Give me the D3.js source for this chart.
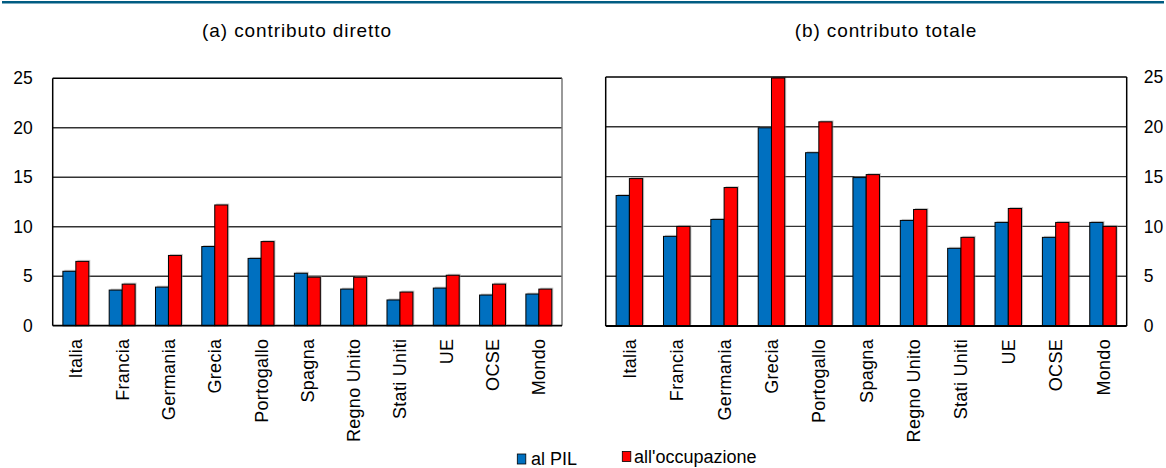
<!DOCTYPE html>
<html><head><meta charset="utf-8">
<script src="https://cdn.jsdelivr.net/npm/d3@7/dist/d3.min.js"></script>
<style>
html,body{margin:0;padding:0;background:#fff;}
svg{display:block;font-family:"Liberation Sans",Arial,sans-serif;}
</style></head>
<body>
<script>
const categories = ["Italia","Francia","Germania","Grecia","Portogallo","Spagna","Regno Unito","Stati Uniti","UE","OCSE","Mondo"];
const directPIL = [5.5,3.6,3.9,8.0,6.8,5.3,3.7,2.6,3.8,3.1,3.2];
const directOcc = [6.5,4.2,7.1,12.2,8.5,4.9,4.9,3.4,5.1,4.2,3.7];
const totalPIL  = [13.1,9.0,10.7,19.9,17.4,14.9,10.6,7.8,10.4,8.9,10.4];
const totalOcc  = [14.8,10.0,13.9,24.9,20.5,15.2,11.7,8.9,11.8,10.4,10.0];
const yTicks = [0,5,10,15,20,25];
const seriesNames = ["al PIL","all'occupazione"];
const panelTitles = ["(a) contributo diretto","(b) contributo totale"];
const colors = ["#0070C0","#FF0000"];

const W = 1166, H = 468;
const svg = d3.select("body").append("svg").attr("width",W).attr("height",H);

// top rule
svg.append("rect").attr("x",2).attr("y",1).attr("width",W-4).attr("height",2.5).attr("fill","#005C82");

const panels = [
  {x0:52.7, x1:562, y0:78.3, y1:325.7, a:directPIL, b:directOcc, title:panelTitles[0], tx:297, axis:"left"},
  {x0:605.7, x1:1126.7, y0:77, y1:326, a:totalPIL, b:totalOcc, title:panelTitles[1], tx:886, axis:"right"}
];

panels.forEach(p => {
  const g = svg.append("g");
  const x = d3.scaleBand().domain(categories).range([p.x0,p.x1]).paddingInner(0.44).paddingOuter(0.22);
  const xs = d3.scaleBand().domain([0,1]).range([0,x.bandwidth()]);
  const y = d3.scaleLinear().domain([0,25]).range([p.y1,p.y0]);

  // gridlines
  g.selectAll(".grid").data(yTicks.filter(t=>t>0 && t<25)).join("line")
    .attr("x1",p.x0).attr("x2",p.x1).attr("y1",d=>y(d)).attr("y2",d=>y(d))
    .attr("stroke","#333").attr("stroke-width",1.4);

  // bars
  [p.a,p.b].forEach((vals,si) => {
    g.selectAll(null).data(vals).join("rect")
      .attr("x",(d,i)=>x(categories[i])+xs(si)+1.5)
      .attr("y",d=>y(d)-1.5)
      .attr("width",xs.bandwidth())
      .attr("height",d=>y(0)-y(d))
      .attr("fill","#999").attr("opacity",0.5);
    g.selectAll(null).data(vals).join("rect")
      .attr("x",(d,i)=>x(categories[i])+xs(si))
      .attr("y",d=>y(d))
      .attr("width",xs.bandwidth())
      .attr("height",d=>y(0)-y(d))
      .attr("fill",colors[si]).attr("stroke","#000").attr("stroke-width",1);
  });

  // frame
  g.append("line").attr("x1",p.x0).attr("x2",p.x1).attr("y1",p.y0).attr("y2",p.y0).attr("stroke","#000").attr("stroke-width",1.5);
  g.append("line").attr("x1",p.x0).attr("x2",p.x0).attr("y1",p.y0).attr("y2",p.y1).attr("stroke","#000").attr("stroke-width",1.5);
  g.append("line").attr("x1",p.x1).attr("x2",p.x1).attr("y1",p.y0).attr("y2",p.y1).attr("stroke",p.axis==="left"?"#777":"#000").attr("stroke-width",1.5);
  g.append("line").attr("x1",p.x0).attr("x2",p.x1).attr("y1",p.y1).attr("y2",p.y1).attr("stroke","#000").attr("stroke-width",1.8);

  // y axis labels
  const ax = p.axis==="left" ? d3.axisLeft(y) : d3.axisRight(y);
  ax.tickValues(yTicks).tickSize(0).tickPadding(p.axis==="left"?20:17).tickFormat(d3.format("d"));
  const axg = g.append("g").attr("transform",`translate(${p.axis==="left"?p.x0:p.x1},0)`).call(ax);
  axg.select(".domain").remove();
  axg.selectAll("text").attr("font-size",17.5).attr("fill","#000").attr("font-family","Liberation Sans, Arial, sans-serif");

  // x axis labels
  const xa = d3.axisBottom(x).tickSize(0).tickPadding(0);
  const xg = g.append("g").attr("transform",`translate(0,${p.y1})`).call(xa);
  xg.select(".domain").remove();
  xg.selectAll("text")
    .attr("font-size",18).attr("fill","#000").attr("font-family","Liberation Sans, Arial, sans-serif")
    .attr("letter-spacing",0.3)
    .attr("text-anchor","end").attr("dy","0.36em")
    .attr("transform","translate(0,13) rotate(-90)")
    .attr("x",0).attr("y",0);

  // title
  svg.append("text").attr("x",p.tx).attr("y",37).attr("text-anchor","middle")
    .attr("font-size",19).attr("letter-spacing",0.9).attr("fill","#000").text(p.title);
});

// legend
const legend = [
  {x:517.3, y:454, tx:531, ty:465},
  {x:622.3, y:451.5, tx:634, ty:462.5}
];
legend.forEach((l,i)=>{
  svg.append("rect").attr("x",l.x).attr("y",l.y).attr("width",8.5).attr("height",10)
    .attr("fill",colors[i]).attr("stroke","#000").attr("stroke-width",0.8);
  svg.append("text").attr("x",l.tx).attr("y",l.ty).attr("font-size",18).attr("fill","#000")
    .text(seriesNames[i]);
});
</script>
</body></html>
